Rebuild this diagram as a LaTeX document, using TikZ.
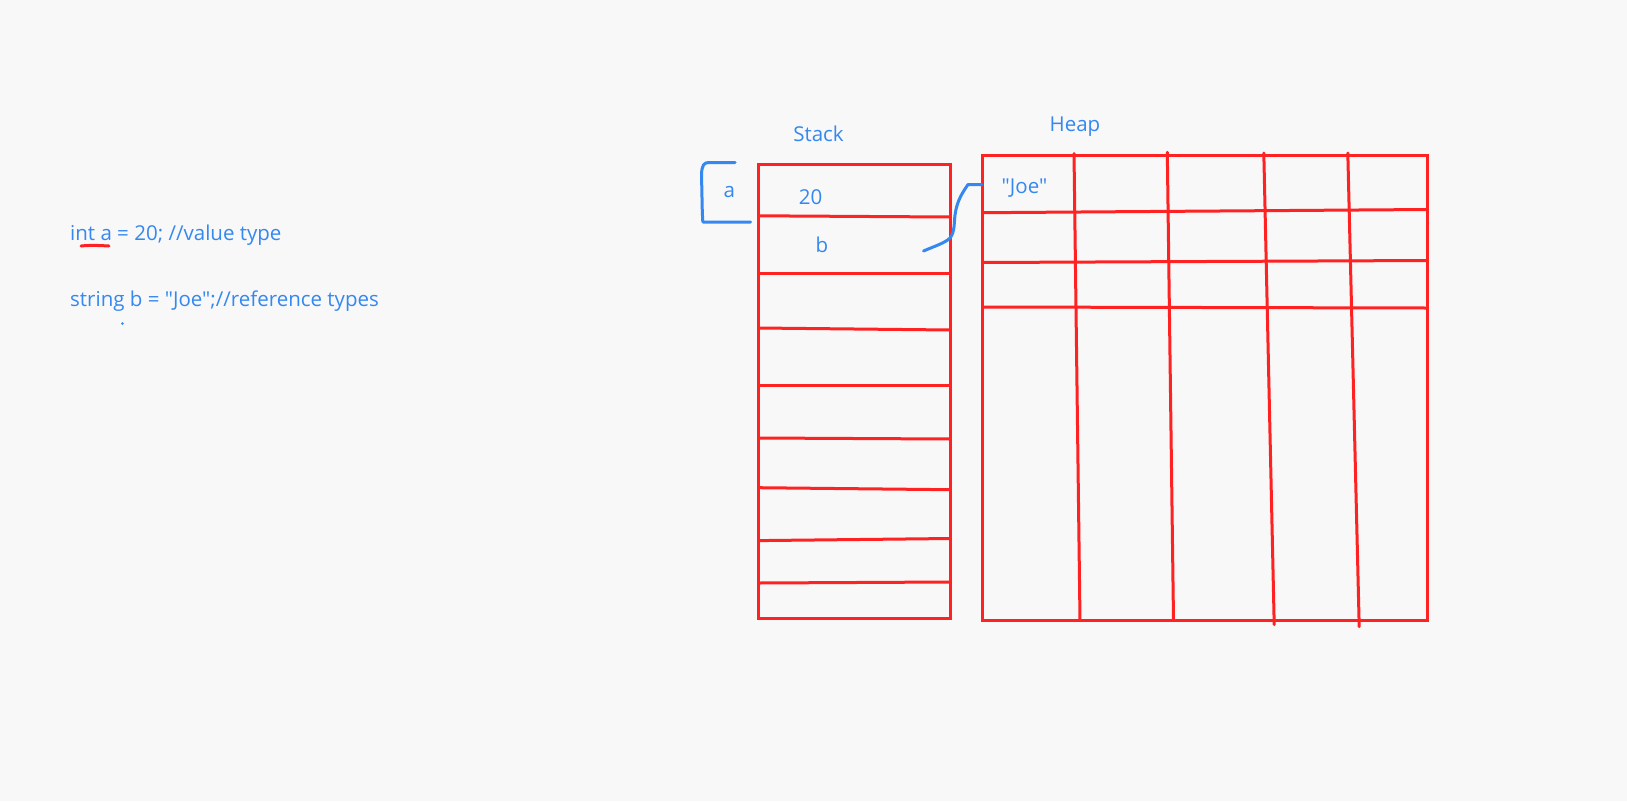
\documentclass[tikz,border=0pt]{standalone}
\usepackage{fontspec}
\setmainfont{Open Sans}[Ligatures=TeXOff]
\definecolor{myred}{RGB}{255,34,34}
\definecolor{myblue}{RGB}{52,136,240}
\definecolor{bg}{RGB}{248,248,248}
\begin{document}
\begin{tikzpicture}[x=1pt,y=-1pt,
  redline/.style={draw=myred,line width=3pt,line cap=round},
  blueline/.style={draw=myblue,line width=3pt,line cap=round,line join=round},
  lbl/.style={text=myblue,font=\fontsize{20.5}{24}\selectfont,inner sep=0pt}]
\fill[bg] (0,0) rectangle (1627,801);
\useasboundingbox (0,0) rectangle (1627,801);
% code text
\node[lbl,anchor=base west] (code1) at (70,240.5) {int a = 20; //value type};
\node[lbl,anchor=base west] (code2) at (70,306) {string b = "Joe";//reference types};
\draw[redline] (81,246) .. controls (90,245) and (100,245.5) .. (109,246);
\fill[myblue] (122.4,323.5) circle (1.4);
% stack
\node[lbl,anchor=base] (stacklbl) at (818.5,141) {Stack};
\draw[redline,line cap=butt] (758.5,164) rectangle (950.5,618.5);
\draw[redline] (758.5,215.8) -- (950.5,217);
\draw[redline] (758.5,273) -- (950.5,273);
\draw[redline] (758.5,328) -- (950.5,330);
\draw[redline] (758.5,385) -- (950.5,385);
\draw[redline] (758.5,438) -- (950.5,439);
\draw[redline] (758.5,487.7) -- (950.5,489.7);
\draw[redline] (758.5,540.6) -- (950.5,538.5);
\draw[redline] (758.5,583) -- (950.5,582);
\node[lbl,anchor=base] (twenty) at (810.5,204) {20};
\node[lbl,anchor=base] (bvar) at (822,252.7) {b};
\node[lbl,anchor=base] (avar) at (729.3,197.7) {a};
% heap
\node[lbl,anchor=base] (heaplbl) at (1075,131.7) {Heap};
\draw[redline,line cap=butt] (982.6,155.6) rectangle (1427.7,620.5);
\draw[redline] (982.6,212.7) -- (1427.7,209.5);
\draw[redline] (982.6,262.5) -- (1427.7,260.5);
\draw[redline] (982.6,307) -- (1427.7,308);
\draw[redline] (1074,153.5) -- (1080,620.5);
\draw[redline] (1167.3,152.3) -- (1173.5,620.5);
\draw[redline] (1263.8,153) -- (1274.2,624.6);
\draw[redline] (1347.8,153) -- (1359.2,626.7);
\node[lbl,anchor=base] (joe) at (1024.5,193.3) {"Joe"};
% bracket around a
\coordinate (brtop) at (735,162.5);
\coordinate (brbot) at (750.5,222);
\draw[blueline] (brtop) -- (709,162.5) .. controls (704,162.5) and (702,165) .. (701.5,174) -- (702.3,212) -- (702.8,222) -- (brbot);
% pointer from b to "Joe"
\coordinate (pstart) at (923.5,251);
\coordinate (pend) at (981.6,184.5);
\draw[blueline] (pstart) .. controls (935,246) and (945,243) .. (950,238) .. controls (955,232) and (954,222) .. (955,215) .. controls (957,200) and (963,192) .. (968,184.5) -- (pend);
\end{tikzpicture}
\end{document}
